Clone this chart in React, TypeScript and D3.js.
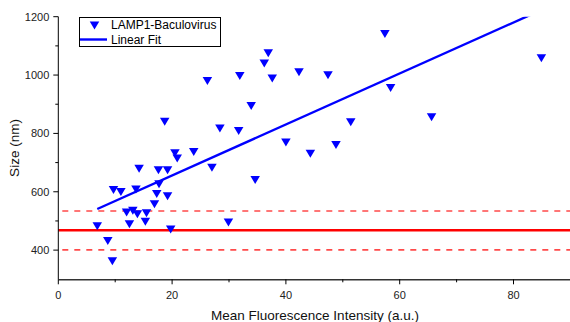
import React from "react";
import * as d3 from "d3";

// Mean fluorescence intensity (a.u.) per particle
const intensity = [
  6.85, 8.7, 9.5, 9.7, 11.0, 12.0, 12.5, 13.1, 13.65, 13.9, 14.2, 15.3, 15.5,
  16.9, 17.3, 17.6, 17.7, 18.7, 19.2, 19.2, 19.75, 20.5, 20.9, 23.8, 26.2, 27.0,
  28.4, 29.9, 31.7, 31.9, 33.9, 34.6, 36.2, 36.9, 37.6, 40.0, 42.3, 44.3, 47.4,
  48.8, 51.4, 57.4, 58.4, 65.6, 84.9,
];
// Particle size (nm)
const sizeNm = [
  482, 431, 362, 606, 599, 529, 489, 535, 608, 523, 679, 497, 526,
  557, 592, 674, 626, 840, 585, 674, 471, 732, 714, 736, 980, 682,
  817, 495, 808, 997, 894, 640, 1040, 1075, 988, 769, 1010, 730, 999,
  760, 838, 1141, 956, 855, 1058,
];

// Linear fit parameters
const fitSlope = 8.74;
const fitIntercept = 481;

// Reference band: mean and dashed bounds (nm)
const refMean = 468;
const refBounds = [534, 401];

const xTicks = [0, 20, 40, 60, 80];
const xMinorTicks = [10, 30, 50, 70];
const yTicks = [400, 600, 800, 1000, 1200];
const yMinorTicks = [500, 700, 900, 1100];

const W = 570;
const H = 322;
const FONT = "'Liberation Sans', Arial, sans-serif";
const BLUE = "#0000ff";

export default function App() {
  const x = d3.scaleLinear().domain([0, 90]).range([58.3, 570.4]);
  const y = d3.scaleLinear().domain([300, 1200]).range([279.3, 16.7]);
  const [x0, x1] = x.range();
  const [yb, yt] = y.range();

  const xMin = d3.min(intensity) as number;
  const xMax = d3.max(intensity) as number;
  const fitLine = d3
    .line<number>()
    .x((d) => x(d))
    .y((d) => y(fitIntercept + fitSlope * d))([xMin, xMax]);

  const tri = "M-4.75,-4L4.75,-4L0,4Z";

  return (
    <div style={{ position: "fixed", left: 0, top: 0 }}>
      <svg width={W} height={H} style={{ display: "block", background: "#fff" }}>
        <defs>
          <clipPath id="plotClip">
            <rect x={x0} y={yt} width={x1 - x0} height={yb - yt} />
          </clipPath>
        </defs>

        {/* reference lines */}
        <line x1={x0} x2={W} y1={y(refMean)} y2={y(refMean)} stroke="#ff0000" strokeWidth={2.4} />
        {refBounds.map((v) => (
          <line
            key={v}
            x1={x0 + 4}
            x2={W}
            y1={y(v)}
            y2={y(v)}
            stroke="#ff4a4a"
            strokeWidth={1.6}
            strokeDasharray="6,6"
          />
        ))}

        {/* fit line */}
        <g clipPath="url(#plotClip)">
          <path d={fitLine ?? ""} fill="none" stroke={BLUE} strokeWidth={2.4} />
        </g>

        {/* data points */}
        {intensity.map((v, i) => (
          <path key={i} d={tri} transform={`translate(${x(v)},${y(sizeNm[i])})`} fill={BLUE} />
        ))}

        {/* axes */}
        <line x1={x0} x2={x0} y1={yt} y2={yb} stroke="#000" strokeWidth={1} />
        <line x1={x0} x2={W} y1={yb + 0.4} y2={yb + 0.4} stroke="#333" strokeWidth={1.4} />
        {yTicks.map((t) => (
          <g key={t}>
            <line x1={x0 - 5} x2={x0} y1={y(t)} y2={y(t)} stroke="#000" />
            <text x={x0 - 9} y={y(t)} dy="0.35em" textAnchor="end" fontSize={11} fontFamily={FONT} fill="#222">
              {t}
            </text>
          </g>
        ))}
        {yMinorTicks.map((t) => (
          <line key={t} x1={x0 - 3} x2={x0} y1={y(t)} y2={y(t)} stroke="#000" />
        ))}
        {xTicks.map((t) => (
          <g key={t}>
            <line x1={x(t)} x2={x(t)} y1={yb} y2={yb + 5} stroke="#000" />
            <text x={x(t)} y={295} dy="0.35em" textAnchor="middle" fontSize={11} fontFamily={FONT} fill="#222">
              {t}
            </text>
          </g>
        ))}
        {xMinorTicks.map((t) => (
          <line key={t} x1={x(t)} x2={x(t)} y1={yb} y2={yb + 3} stroke="#000" />
        ))}

        {/* axis titles */}
        <text x={315} y={315} dy="0.35em" textAnchor="middle" fontSize={13.5} fontFamily={FONT} fill="#111">
          Mean Fluorescence Intensity (a.u.)
        </text>
        <text
          transform={`translate(14,${(yt + yb) / 2}) rotate(-90)`}
          dy="0.35em"
          textAnchor="middle"
          fontSize={13.5}
          fontFamily={FONT}
          fill="#111"
        >
          Size (nm)
        </text>

        {/* legend */}
        <rect x={79.5} y={17.5} width={141} height={29} fill="#fff" stroke="#000" strokeWidth={1} />
        <path d={tri} transform="translate(94.5,25.5)" fill={BLUE} />
        <text x={111} y={25} dy="0.35em" fontSize={12} fontFamily={FONT} fill="#000">
          LAMP1-Baculovirus
        </text>
        <line x1={80} x2={107} y1={39.5} y2={39.5} stroke={BLUE} strokeWidth={2.4} />
        <text x={111} y={40} dy="0.35em" fontSize={12} fontFamily={FONT} fill="#000">
          Linear Fit
        </text>
      </svg>
    </div>
  );
}
